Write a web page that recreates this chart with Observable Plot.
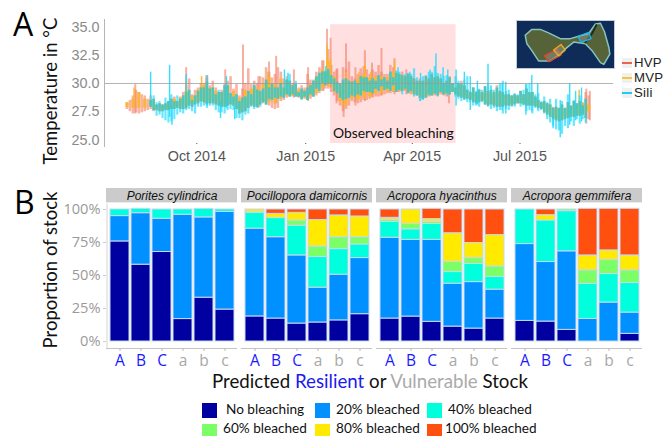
<!DOCTYPE html>
<html><head><meta charset="utf-8">
<script src="https://cdn.jsdelivr.net/npm/d3@7"></script>
<script src="https://cdn.jsdelivr.net/npm/@observablehq/plot@0.6"></script>
<style>
html,body{margin:0;padding:0;background:#fff;overflow:hidden}
#page{position:relative;width:669px;height:436px;overflow:hidden;font-family:"Open Sans",sans-serif}
#page>div,#page>svg{position:absolute}
.big{font:32px "Open Sans";color:#000;line-height:32px}
.rot{transform:translate(-50%,-50%) rotate(-90deg);white-space:nowrap;font-size:18.5px;color:#111;font-family:Lato}
.kbox{width:10px;height:10px;background:#f0f0f0;left:622px}
.kbox i{display:block;position:absolute;left:0;right:0;top:4px;height:2px}
.ktxt{left:634px;font:13.2px "Liberation Sans";color:#222;line-height:14px;letter-spacing:.25px}
.sw{width:15px;height:15px}
.lt{font:13.6px Lato;color:#111;white-space:nowrap;line-height:15px}
</style></head><body><div id="page"></div>
<script>
// ---------- Panel A: temperature, columns every 5 days from 3 Aug 2014 ----------
const hvpLow=[27.7,27.3,27.3,27.5,27.7,27.6,27.5,27.6,27.7,27.7,27.8,27.9,28.2,28.3,28.2,28.1,27.9,28,28,27.3,27.5,28,27.9,28.2,28,27.7,28.4,28.7,28.8,28.7,28.6,28.6,28.9,29.3,29.5,28.9,28,27.7,28.4,28.2,28.5,28.6,28.8,28.9,29.1,29.2,29.2,29.3,29,28.9,28.6,28.8,28.9,29,28.8,29.2,28.8,28.6,28.5,28.2,28.4,28,28,27.9,28,28,28.2,28.1,28,27.9,27.7,27.2,26.8,26.6,26.8,27,27.1,27.2,26.8];
const hvpHigh=[28.3,28.9,29.2,28.9,28.9,28.1,28.1,28.4,28.8,28.8,29.8,29,29.6,30,29.8,29.6,29.4,30.2,29.5,28.9,30,29.9,30,30.5,31,30.8,31,30.6,30,29.6,29.6,30.3,31,32,33,31,30,31.2,30.6,30.8,31.5,30.8,31,31,30.8,31.4,30.8,30.6,30.6,30.2,30.2,30.4,30.5,30.4,30.2,30,30,29.8,29.2,29.2,29.2,29.3,29.2,29.3,29,28.9,28.9,29,29.2,28.8,28.3,28.2,27.9,27.8,27.8,28,28.2,28.3,28.9];
// columns in between (5 Aug 2014 onward, 5-day steps)
const hvpMidHigh=[28.5,29.4,29,28.6,28.6,28.2,28.2,28.6,28.4,29.2,30.4,29.4,30,30.5,30.2,29.2,29.9,30.6,29.9,29.5,31.3,30.2,30.6,31.4,30.5,31.4,30.4,30.2,29.9,29.8,30.8,30.3,31.4,31,31.6,31.3,31.4,31.9,30.4,31.3,31.2,31.2,31.6,30.8,31.6,30.9,31,30.8,30.4,30.4,30.6,30.8,30.6,30,30.6,29.6,30.2,29.4,29.6,29.4,29.7,29.4,29.8,29.2,29,29,29.3,29.5,29.2,28.5,28.4,28.1,27.9,28.1,28.3,28.4,28.4,29.2];
const hvpMidLow=[27.5,27.4,27.4,27.6,27.5,27.5,27.6,27.7,27.8,27.7,28,28.1,28.4,28.2,28.2,28,27.9,28.1,27.7,27.4,27.8,27.9,28.1,28.1,27.8,27.8,28.5,28.8,28.8,28.6,28.5,28.8,29.1,29.5,29.2,28.4,27.5,28,28.3,28.3,28.5,28.7,28.8,29,29.1,29.2,29.3,29.1,29,28.7,28.7,28.9,28.9,28.9,29,29,28.7,28.6,28.3,28.3,28.1,28.1,27.9,27.9,28,28.1,28.2,28,28,27.8,27.4,27,26.7,26.7,26.9,27,27.1,26.9];
const mvpLow=[27.9,27.8,27.8,27.8,27.9,27.8,27.7,27.8,27.9,27.9,28,28.1,28.3,28.4,28.4,28.3,28.1,28.2,28.2,27.6,27.8,28.2,28.1,28.4,28.3,28.2,28.6,28.9,28.9,28.8,28.7,28.8,29.1,29.5,29.7,29.2,28.4,28,28.6,28.5,28.7,28.8,29,29.1,29.2,29.3,29.3,29.4,29.1,29,28.8,28.9,29,29.1,29,29.3,28.9,28.8,28.6,28.4,28.5,28.2,28.1,28,28.1,28.2,28.3,28.2,28.1,28,27.8,27.4,27,26.9,27,27.2,27.3,27.4,27.5];
const mvpHigh=[28.3,28.6,29.2,28.6,28.5,28,28,28.3,28.6,28.7,29.3,28.9,29.4,29.8,29.6,29.3,29.2,29.7,29.3,28.7,29.4,29.5,29.6,30,30.5,30,30.4,30.2,29.8,29.4,29.4,29.9,30.5,31.2,32,30.6,29.8,30.4,30.2,30.3,30.8,30.5,30.6,30.6,30.5,31,30.6,30.4,30.4,30.1,30,30.2,30.3,30.2,30,29.9,29.8,29.6,29.1,29.1,29.1,29.1,29,29.1,28.9,28.8,28.8,28.9,29,28.7,28.2,28.1,27.8,27.7,27.7,27.9,28.1,28.2,28.1];
const siliStart=4;
const siliLow=[27.9,27.1,26.9,26.5,26.8,27.4,27.6,27.5,27.9,28,28,27.6,27.4,27.6,27.6,26.9,27.2,27.9,27.8,28.3,28.6,28.7,28.8,29,29,28.8,28.8,29,29.5,30,30,29.3,28.7,28.6,28.9,29,29.3,29.2,29.5,29.7,29.5,29.8,29.4,29.5,29.3,28.9,28.5,29,29.1,29.2,29.1,29.2,28.6,28.5,28.3,28,28.3,27.9,27.8,27.6,27.7,27.9,28.2,28,27.6,27.8,27.6,26.8,26.2,25.8,26.2,26.6,26.8,26.8];
const siliHigh=[28.5,28.3,28.1,28.4,28.4,28.6,29.2,28.5,29.3,29.6,29.5,29,29.2,29.8,28.8,28.4,28.8,29,29.4,29.5,29.6,29.6,30,30.3,29.8,29.2,29.3,29.8,30.6,31,31.2,30.4,29.9,30.4,30.1,30,30.5,30.2,30.2,30.3,30.2,30.5,31,30.8,30.8,30.5,30.6,31,31.5,30.8,30.7,30,30.2,30.3,29.3,29.3,29.4,30,29.4,30,29.3,28.9,29,29.4,30,29,28.4,28.3,27.8,27.8,27.8,28,28.2,28];
const siliMidHigh=[28.9,28.4,28.7,29,28.9,28.9,29.4,28.9,29.6,30.1,29.6,29.4,29.8,29.1,29,28.7,29.3,29.8,29.3,30.3,29.9,29.6,29.6,30.8,30.2,29.5,29.6,30.2,30.9,31.1,30.7,30.1,30.3,30.2,30.2,30.6,30.5,30.4,30.7,30.5,31,31.1,30.7,30.9,31.3,30.2,30.7,31,30.9,30.6,30.5,30.6,29.9,30.6,29.6,29.5,29.7,29.8,29.6,30.2,29.4,29.1,29.3,29.9,29.2,29.1,28.8,28.6,28.6,28.4,29,28.5,28.9,28.6];
const siliMidLow=[27.6,27.2,26.7,26.6,27.2,27.3,27.7,27.3,27.9,27.8,28,27.4,27.3,27.7,26.9,26.7,27.3,27.7,27.9,28.1,28.5,28.6,28.7,28.8,28.8,28.5,28.5,28.8,29.3,29.8,29.9,29.1,28.5,28.7,28.8,28.9,29.2,29.1,29.3,29.4,29.3,29.2,29,29.1,28.8,28.4,28.7,28.9,28.8,29,29,28.8,28.4,28.3,28,27.9,28.1,27.7,27.5,27.3,27.6,27.9,27.9,27.5,27.3,27.5,27.3,26.5,25.9,25.5,26,26.2,26.4,26.5];
const hvpSpikes=[["2014-08-10",29.9,27.3],["2014-09-22",31.4,27.9],["2014-10-09",30.7,28.1],["2014-10-25",31.2,28],["2014-11-09",33.4,28.3],["2014-11-22",30.6,27.8],["2014-12-01",31.9,28.4],["2014-12-07",32.4,28.2],["2014-12-22",31.2,28.7],["2015-01-03",31.4,28.4],["2015-01-16",32,29.3],["2015-01-19",34.8,29.8],["2015-01-22",34,29.6],["2015-01-27",31.2,28.2],["2015-02-02",30,27],["2015-02-04",33.5,28.4],["2015-02-12",31.4,28],["2015-02-20",32.9,28.4],["2015-02-26",31.8,28.8],["2015-03-06",33.1,28.9],["2015-03-17",32.2,29],["2015-03-27",31.2,29],["2015-05-02",30,28.2],["2015-08-26",29.5,26.4],["2015-08-29",29.3,26.7]];
const mvpSpikes=[["2014-08-09",29.6,27.8],["2014-09-22",30.2,28],["2014-10-05",30.6,28.3],["2014-11-30",31,28.5],["2015-01-19",33.4,30],["2015-01-22",32.2,29.8],["2015-02-01",29.6,27.8],["2015-02-04",31,28.5],["2015-02-15",31,28.6],["2015-02-20",31.8,28.6],["2015-02-25",31,28.8],["2015-03-17",32,29.4],["2015-08-20",29.4,27.2]];
const siliSpikes=[["2014-08-23",31,28],["2014-09-08",31.6,27],["2014-09-10",28,26.3],["2014-09-22",30.8,27.7],["2014-10-10",30.7,28],["2014-10-21",28.4,26.9],["2014-10-26",30.6,27.8],["2014-11-02",28,26.8],["2014-12-14",31.2,29],["2014-12-17",30.9,29],["2015-01-18",31.5,30],["2015-03-20",31.4,29.4],["2015-03-30",31,29.3],["2015-04-08",30.9,28.4],["2015-04-16",31.2,28.9],["2015-04-21",32.6,29],["2015-04-27",31.4,29],["2015-05-01",31.2,28.9],["2015-05-08",31.2,28],["2015-05-15",31,28.5],["2015-05-20",30.6,27.6],["2015-05-26",30.2,28.1],["2015-06-04",31.7,28.1],["2015-06-16",30,27.6],["2015-06-19",30.1,27.3],["2015-07-06",29.9,27.2],["2015-07-11",30.7,27.5],["2015-07-16",30,27.7],["2015-07-29",27.3,26],["2015-08-04",28.5,25.2],["2015-08-12",30,26.3],["2015-08-17",29.3,26.7],["2015-08-22",29.6,26.6]];
const tempTicks=[25,27.5,30,32.5,35];
const dateTicks=["2014-10-01","2015-01-01","2015-04-01","2015-07-01"];
const bleachStart="2015-01-22", bleachEnd="2015-05-08";
const aColors={HVP:"#f5846c",MVP:"#fdb52a",Sili:"#1fdcff",overlap:"#4cc4b2"};

// ---------- Panel B: stacks (no, 20, 40, 60, 80, 100% bleached) ----------
const stocks=["A","B","C","a","b","c"];
const species=["Porites cylindrica","Pocillopora damicornis","Acropora hyacinthus","Acropora gemmifera"];
const levels=["No bleaching","20% bleached","40% bleached","60% bleached","80% bleached","100% bleached"];
const levelColors=["#0000a0","#0090ff","#00ffdc","#7cff66","#ffea00","#ff5010"];
const porites=[[75.8,19.2,5,0,0,0],[58.2,39,3.3,0,0,0],[67.8,25.2,7,0,0,0],[17,79,4,0,0,0],[33.2,60.8,6.4,0,0,0],[24.2,74,1.8,0,0,0]];
const pocillopora=[[19,66.5,12,.5,2,0],[17.4,61.6,14.5,0,3.2,3.3],[13.6,51.6,22.5,4,5.8,2.5],[14.4,26.4,23.2,8,20,8],[16,34.6,19.4,9,16.5,4.5],[20.7,42.5,10.3,5.5,15.7,5.3]];
const hyacinthus=[[17.4,61.2,12.1,1.5,1.5,6.3],[18.9,58.1,8,4,11,0],[14.9,62.1,12,1.7,2,7.8],[11.3,32.5,8.8,7.6,21.8,18],[9.8,35.2,13.7,4.5,11.4,25.4],[17.4,21.9,9.6,8,23.7,19.4]];
const gemmifera=[[15.6,58.2,26.2,0,0,0],[15.1,45.1,31.5,0,4,4.3],[8.8,59.5,30.4,1.3,0,0],[0,17.1,26.5,10.3,11.3,35.3],[0,29.5,21.6,10.6,7.3,31.5],[5.8,16.1,22.4,9.6,11.3,35.3]];
const pctTicks=[0,25,50,75,100];

// ---------- Inset map outline (crop units) ----------
const island=[[45,75],[65,58],[90,58],[115,68],[150,85],[180,85],[205,78],[235,70],[255,42],[270,40],[282,65],[295,110],[298,130],[280,160],[270,155],[245,120],[225,100],[190,95],[165,115],[150,130],[120,150],[85,150],[65,120],[50,100],[45,75]];
const ridge=[[258,45],[245,70],[225,96]];
const sites=[{c:"#e8402a",p:[[103,135],[140,115],[152,133],[115,152],[103,135]]},{c:"#f5a81c",p:[[130,118],[152,102],[165,118],[145,135],[130,118]]},{c:"#18b4f0",p:[[203,78],[235,67],[242,85],[212,96],[203,78]]}];

const D=s=>new Date(s+"T00:00:00Z");
const origin=D("2014-08-03");
const cols=(lo,hi,startDays)=>lo.map((l,i)=>({date:new Date(+origin+(5*i+startDays)*864e5),lo:l,hi:hi[i]}));
// stretch of each Sili column that the HVP record shares
const shared=(sLo,sHi,rLo,rHi,startDays)=>sLo.map((l,i)=>({date:new Date(+origin+(5*(i+siliStart)+startDays)*864e5),lo:Math.max(l,rLo[i+siliStart]),hi:Math.min(sHi[i],rHi[i+siliStart])})).filter(d=>d.hi>d.lo);
const spike=a=>a.map(([d,h,l])=>({date:D(d),hi:h,lo:l}));
const rules=(data,color,op,w)=>Plot.ruleX(data,{x:"date",y1:"lo",y2:"hi",stroke:color,strokeOpacity:op,strokeWidth:w});
const page=document.getElementById("page");
const add=(html,style,cls)=>{const d=document.createElement("div");if(cls)d.className=cls;d.innerHTML=html;d.style.cssText=style;page.appendChild(d);return d;};

const plotA=Plot.plot({
  width:669,height:165,marginLeft:104,marginRight:56,marginTop:19,marginBottom:22,
  style:{background:"transparent",overflow:"visible"},
  x:{type:"utc",domain:[D("2014-07-15"),D("2015-09-18")]},
  y:{domain:[24.69,35.66]},
  marks:[
    Plot.rectY([0],{x1:D(bleachStart),x2:D(bleachEnd),y1:24.69,y2:35.2,fill:"#ffdfe0"}),
    rules(cols(hvpLow,hvpHigh,0),aColors.HVP,.62,2.6),
    rules(cols(hvpMidLow,hvpMidHigh,2.5),aColors.HVP,.62,2.6),
    rules(spike(hvpSpikes),aColors.HVP,.65,2),
    rules(cols(mvpLow,mvpHigh,0),aColors.MVP,.82,3.4),
    rules(spike(mvpSpikes),aColors.MVP,.85,1.7),
    rules(cols(siliLow,siliHigh,5*siliStart),aColors.Sili,.68,2.2),
    rules(cols(siliMidLow,siliMidHigh,5*siliStart+2.5),aColors.Sili,.68,2.2),
    rules(spike(siliSpikes),aColors.Sili,.9,1.4),
    rules(shared(siliLow,siliHigh,hvpLow,hvpHigh,0),aColors.overlap,.85,2.6),
    rules(shared(siliMidLow,siliMidHigh,hvpMidLow,hvpMidHigh,2.5),aColors.overlap,.85,2.6),
    Plot.ruleY([30],{stroke:"#9a9a9a",strokeWidth:1,strokeOpacity:.75}),
    Plot.ruleX([D("2014-07-15")],{y1:24.34,y2:35.66,stroke:"#b5b5b5"}),
    Plot.axisY({ticks:tempTicks,tickFormat:d=>d.toFixed(1),tickSize:0,tickPadding:5,label:null,fontSize:14.4,fontFamily:"Liberation Sans",color:"#8a8a8a"}),
    Plot.axisX({ticks:dateTicks.map(D),tickFormat:d3.utcFormat("%b %Y"),tickSize:1,tickPadding:6,label:null,fontSize:14.3,fontFamily:"Liberation Sans",color:"#555"}),
    Plot.text(["Observed bleaching"],{x:D("2015-03-16"),y:25.6,text:d=>d,fontSize:13.9,fontFamily:"Lato",fill:"#111"})
  ]
});
plotA.style.cssText+=";position:absolute;left:0;top:0";
page.appendChild(plotA);

const rows=[];
[porites,pocillopora,hyacinthus,gemmifera].forEach((tbl,s)=>tbl.forEach((vals,k)=>vals.forEach((v,l)=>{
  if(v>0) rows.push({species:species[s],stock:stocks[k],level:levels[l],pct:v});
})));
const plotB=Plot.plot({
  width:669,height:190,marginLeft:106,marginRight:27,marginTop:8,marginBottom:22,
  style:{background:"transparent",overflow:"visible"},
  fx:{domain:species,paddingInner:.03,paddingOuter:0,axis:null,label:null},
  x:{domain:stocks,paddingInner:.1,paddingOuter:.14,label:null},
  y:{domain:[-5.3,115.9],label:null},
  color:{domain:levels,range:levelColors},
  marks:[
    Plot.rectY(species,{fx:d=>d,y1:105,y2:115.9,fill:"#cbcbcb"}),
    Plot.text(species,{fx:d=>d,y:110.4,text:d=>d,frameAnchor:"middle",fontStyle:"italic",fontSize:12,fontFamily:"Liberation Sans",fill:"#111"}),
    Plot.ruleY([-5.3],{stroke:"#c4c4c4"}),
    Plot.ruleX([species[0]],{fx:d=>d,x:()=>"A",dx:-13,y1:-5.3,y2:104,stroke:"#d4d4d4"}),
    Plot.barY(rows,{fx:"species",x:"stock",y:"pct",fill:"level",stroke:"#c6d8f0",strokeWidth:1}),
    Plot.axisX({tickSize:3,tickPadding:3.5,fontSize:15.5,fontFamily:"Open Sans",stroke:"#b8b8b8",fill:d=>d===d.toUpperCase()?"#1a1aff":"#a8a8a8",y:-5.3}),
    Plot.axisY({ticks:pctTicks,tickFormat:d=>d+"%",tickSize:3,tickPadding:3,label:null,fontSize:14.6,fontFamily:"Open Sans",color:"#9a9a9a",stroke:"#ccc"})
  ]
});
plotB.style.cssText+=";position:absolute;left:0;top:180px";
page.appendChild(plotB);

// inset map
const inset=Plot.plot({
  width:97,height:47,margin:0,axis:null,
  style:{background:"#0f2c58"},
  x:{domain:[22,312]},y:{domain:[172,35]},
  marks:[
    Plot.line(island,{x:d=>d[0],y:d=>d[1],fill:"#566338",stroke:"#86c3bf",strokeWidth:1.5}),
    Plot.line(ridge,{x:d=>d[0],y:d=>d[1],stroke:"#1c2a1c",strokeWidth:1.8}),
    ...sites.map(s=>Plot.line(s.p,{x:d=>d[0],y:d=>d[1],stroke:s.c,strokeWidth:1.3,fill:"#9fb0b0",fillOpacity:.35}))
  ]
});
inset.style.cssText+=";position:absolute;left:517px;top:21px;outline:1px solid #c4ccd4";
page.appendChild(inset);

// text and legends
add("A","left:13px;top:8px","big");
add("B","left:14px;top:186px","big");
add("Temperature in °C","left:50px;top:91px","rot");
add("Proportion of stock","left:50px;top:270px","rot");
["HVP","MVP","Sili"].forEach((n,i)=>{
  const y=[58,73,88][i];
  add(`<i style="background:${({HVP:"#e8664f",MVP:"#f9c53a",Sili:"#1ccdf5"})[n]}"></i>`,`top:${y}px`,"kbox");
  add(n,`top:${y-2}px`,"ktxt");
});
add('Predicted <span style="color:#1a1aee">Resilient</span> or <span style="color:#aaa">Vulnerable</span> Stock',"left:212px;top:370px;font:18.7px Lato;color:#111;white-space:nowrap");
const swX=[202,315,427], ltX=[[226,336,448],[223,336,445]];
levels.forEach((l,i)=>{
  const r=Math.floor(i/3),c=i%3,y=r?424:403;
  add("",`left:${swX[c]}px;top:${y}px;background:${levelColors[i]}`,"sw");
  add(l,`left:${ltX[r][c]}px;top:${r?421:402}px`,"lt");
});
</script></body></html>
